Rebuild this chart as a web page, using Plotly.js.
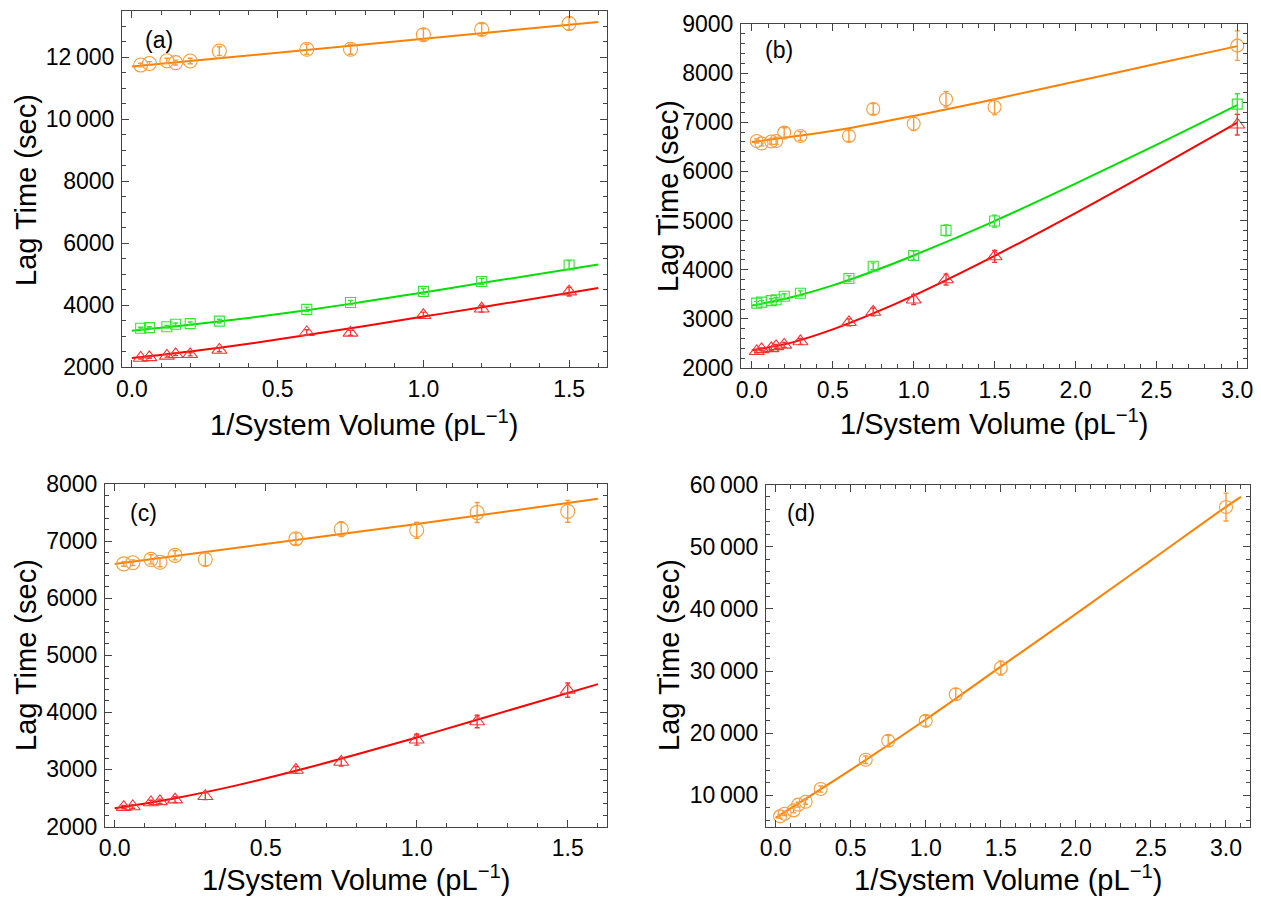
<!DOCTYPE html>
<html>
<head>
<meta charset="utf-8">
<script src="https://cdn.plot.ly/plotly-3.0.1.min.js"></script>
<style>html,body{margin:0;padding:0;background:#fff;}#chart{width:1261px;height:898px;}</style>
</head>
<body>
<div id="chart"></div>
<script>
// ---------- data ----------
const xs  = [0.03, 0.06, 0.12, 0.15, 0.2, 0.3, 0.6, 0.75, 1.0, 1.2, 1.5];
const xsB = [0.03, 0.06, 0.12, 0.15, 0.2, 0.3, 0.6, 0.75, 1.0, 1.2, 1.5, 3.0];

// panel (a)
const aOrange    = [11740, 11790, 11880, 11820, 11870, 12190, 12250, 12250, 12720, 12890, 13080];
const aOrangeErr = [60, 60, 80, 80, 90, 140, 160, 160, 190, 190, 210];
const aGreen     = [3250, 3270, 3300, 3380, 3400, 3480, 3860, 4080, 4440, 4760, 5290];
const aGreenErr  = [30, 30, 40, 40, 50, 60, 70, 70, 90, 100, 140];
const aRed       = [2290, 2310, 2360, 2410, 2410, 2550, 3120, 3100, 3670, 3880, 4430];
const aRedErr    = [30, 30, 40, 40, 50, 60, 80, 80, 100, 110, 140];
const aOrangeFitX = [0, 1.6];
const aOrangeFitY = [11690, 13130];
const aFitX       = [0, 0.2, 0.4, 0.6, 0.8, 1.0, 1.2, 1.6];
const aGreenFitY  = [3170, 3360, 3580, 3830, 4110, 4406, 4706, 5306];
const aRedFitY    = [2290, 2500, 2750, 3030, 3326, 3626, 3926, 4550];

// panel (b)
const bOrange    = [6620, 6570, 6610, 6620, 6790, 6720, 6720, 7270, 6970, 7470, 7310, 8560];
const bOrangeErr = [40, 50, 60, 70, 100, 90, 110, 110, 140, 160, 160, 300];
const bGreen     = [3320, 3340, 3370, 3390, 3460, 3520, 3820, 4070, 4290, 4800, 4990, 7370];
const bGreenErr  = [30, 30, 40, 40, 50, 50, 60, 70, 90, 110, 120, 210];
const bRed       = [2340, 2380, 2400, 2440, 2470, 2540, 2930, 3140, 3390, 3800, 4270, 6950];
const bRedErr    = [30, 30, 40, 40, 50, 60, 70, 80, 100, 110, 120, 210];
const bOrangeFitX = [0, 0.3, 0.6, 1.0, 1.5, 2.0, 2.5, 3.0];
const bOrangeFitY = [6600, 6730, 6880, 7130, 7470, 7830, 8190, 8550];
const bFitX       = [0, 0.25, 0.5, 0.75, 1.0, 1.5, 2.0, 2.5, 3.0];
const bGreenFitY  = [3270, 3445, 3682, 3970, 4290, 4990, 5750, 6540, 7350];
const bRedFitY    = [2360, 2522, 2785, 3110, 3472, 4282, 5152, 6062, 6992];

// panel (c)
const cOrange    = [6600, 6620, 6680, 6630, 6750, 6680, 7040, 7210, 7190, 7500, 7520];
const cOrangeErr = [40, 50, 80, 80, 80, 110, 100, 130, 140, 175, 190];
const cRed       = [2340, 2350, 2420, 2440, 2470, 2530, 2990, 3130, 3520, 3840, 4390];
const cRedErr    = [30, 30, 40, 40, 50, 60, 60, 70, 95, 110, 125];
const cOrangeFitX = [0, 0.6, 1.0, 1.6];
const cOrangeFitY = [6600, 7020, 7300, 7740];
const cRedFitX    = [0, 0.2, 0.4, 0.6, 0.8, 1.0, 1.2, 1.6];
const cRedFitY    = [2320, 2496, 2716, 2976, 3260, 3560, 3870, 4494];

// panel (d)
const dOrange    = [6630, 7060, 7590, 8510, 8990, 11030, 15730, 18780, 21990, 26270, 30490, 56370];
const dOrangeErr = [300, 300, 400, 400, 400, 500, 600, 880, 850, 930, 1150, 2250];
const dFitX = [0, 0.5, 1.0, 1.5, 2.0, 2.5, 3.0, 3.1];
const dFitY = [6400, 14100, 22200, 30700, 39200, 47800, 56400, 58000];

// tick labels
const xTickVals15 = [0, 0.5, 1.0, 1.5];
const xTickText15 = ['0.0', '0.5', '1.0', '1.5'];
const xTickVals30 = [0, 0.5, 1.0, 1.5, 2.0, 2.5, 3.0];
const xTickText30 = ['0.0', '0.5', '1.0', '1.5', '2.0', '2.5', '3.0'];
const aYTickVals = [2000, 4000, 6000, 8000, 10000, 12000];
const aYTickText = ['2000', '4000', '6000', '8000', '10\u2009000', '12\u2009000'];
const bYTickVals = [2000, 3000, 4000, 5000, 6000, 7000, 8000, 9000];
const bYTickText = ['2000', '3000', '4000', '5000', '6000', '7000', '8000', '9000'];
const cYTickVals = [2000, 3000, 4000, 5000, 6000, 7000, 8000];
const cYTickText = ['2000', '3000', '4000', '5000', '6000', '7000', '8000'];
const dYTickVals = [10000, 20000, 30000, 40000, 50000, 60000];
const dYTickText = ['10\u2009000', '20\u2009000', '30\u2009000', '40\u2009000', '50\u2009000', '60\u2009000'];

const panelLabels = ['(a)', '(b)', '(c)', '(d)'];
const xTitle = '1/System Volume (pL<sup>\u22121</sup>)';
const yTitle = 'Lag Time (sec)';

// ---------- styles ----------
const ORANGE = '#ff8000', GREEN = '#00e000', RED = '#ff0000';
const ORANGE_M = '#ff9933', GREEN_M = '#33e633', RED_M = '#ff3333';
const FONT = 'Liberation Sans, Arial, sans-serif';
const W = 1261, H = 898;

function pts(x, y, err, color, symbol, size, xa, ya) {
  return {
    x: x, y: y, xaxis: xa, yaxis: ya, type: 'scatter', mode: 'markers',
    marker: {symbol: symbol, size: size, color: color, line: {color: color, width: 1.1}},
    error_y: {type: 'data', array: err, visible: true, color: color, thickness: 1.4, width: 2.5},
    hoverinfo: 'x+y', showlegend: false
  };
}
function fit(x, y, color, xa, ya) {
  return {x: x, y: y, xaxis: xa, yaxis: ya, type: 'scatter', mode: 'lines',
    line: {color: color, width: 2, shape: 'spline', smoothing: 1},
    hoverinfo: 'skip', showlegend: false};
}

const traces = [
  fit(aOrangeFitX, aOrangeFitY, ORANGE, 'x', 'y'),
  fit(aFitX, aGreenFitY, GREEN, 'x', 'y'),
  fit(aFitX, aRedFitY, RED, 'x', 'y'),
  pts(xs, aOrange, aOrangeErr, ORANGE_M, 'circle-open', 14, 'x', 'y'),
  pts(xs, aGreen, aGreenErr, GREEN_M, 'square-open', 10, 'x', 'y'),
  pts(xs, aRed, aRedErr, RED_M, 'triangle-up-open', 13, 'x', 'y'),

  fit(bOrangeFitX, bOrangeFitY, ORANGE, 'x2', 'y2'),
  fit(bFitX, bGreenFitY, GREEN, 'x2', 'y2'),
  fit(bFitX, bRedFitY, RED, 'x2', 'y2'),
  pts(xsB, bOrange, bOrangeErr, ORANGE_M, 'circle-open', 13, 'x2', 'y2'),
  pts(xsB, bGreen, bGreenErr, GREEN_M, 'square-open', 10, 'x2', 'y2'),
  pts(xsB, bRed, bRedErr, RED_M, 'triangle-up-open', 13, 'x2', 'y2'),

  fit(cOrangeFitX, cOrangeFitY, ORANGE, 'x3', 'y3'),
  fit(cRedFitX, cRedFitY, RED, 'x3', 'y3'),
  pts(xs, cOrange, cOrangeErr, ORANGE_M, 'circle-open', 14, 'x3', 'y3'),
  pts(xs, cRed, cRedErr, RED_M, 'triangle-up-open', 13, 'x3', 'y3'),

  fit(dFitX, dFitY, ORANGE, 'x4', 'y4'),
  pts(xsB, dOrange, dOrangeErr, ORANGE_M, 'circle-open', 13, 'x4', 'y4')
];

function xAxis(px0, px1, range, tv, tt, minorD, anchor) {
  return {
    domain: [px0 / W, px1 / W], range: range, anchor: anchor,
    tickmode: 'array', tickvals: tv, ticktext: tt,
    ticks: 'inside', ticklen: 7, tickwidth: 1, tickcolor: '#444',
    minor: {tickmode: 'linear', tick0: 0, dtick: minorD, ticks: 'inside', ticklen: 4, tickwidth: 1, tickcolor: '#444'},
    showline: true, linecolor: '#444', linewidth: 1, mirror: 'allticks',
    showgrid: false, zeroline: false,
    tickfont: {family: FONT, size: 23, color: '#000'}, ticklabelstandoff: 1
  };
}
function yAxis(py0, py1, range, tv, tt, minorD, anchor) {
  const a = xAxis(0, 1, range, tv, tt, minorD, anchor);
  a.domain = [1 - py1 / H, 1 - py0 / H];
  a.ticklabelstandoff = 2;
  return a;
}

function ann(text, px, py, size, angle) {
  return {text: text, x: px / W, y: 1 - py / H, xref: 'paper', yref: 'paper',
    showarrow: false, xanchor: 'center', yanchor: 'middle', textangle: angle || 0,
    font: {family: FONT, size: size, color: '#000'}};
}

const layout = {
  width: W, height: H, margin: {l: 0, r: 0, t: 0, b: 0},
  paper_bgcolor: '#fff', plot_bgcolor: '#fff', showlegend: false,
  xaxis:  xAxis(122, 607, [-0.034, 1.63], xTickVals15, xTickText15, 0.1, 'y'),
  yaxis:  yAxis(10.5, 367, [2000, 13500], aYTickVals, aYTickText, 500, 'x'),
  xaxis2: xAxis(741, 1247, [-0.067, 3.06], xTickVals30, xTickText30, 0.1, 'y2'),
  yaxis2: yAxis(24, 368, [2000, 9000], bYTickVals, bYTickText, 200, 'x2'),
  xaxis3: xAxis(105, 607, [-0.032, 1.63], xTickVals15, xTickText15, 0.1, 'y3'),
  yaxis3: yAxis(484, 826.5, [2000, 8000], cYTickVals, cYTickText, 200, 'x3'),
  xaxis4: xAxis(766, 1250, [-0.064, 3.16], xTickVals30, xTickText30, 0.1, 'y4'),
  yaxis4: yAxis(484.5, 826.5, [5000, 60000], dYTickVals, dYTickText, 2000, 'x4'),
  annotations: [
    ann(panelLabels[0], 159, 40, 23), ann(panelLabels[1], 779, 50, 23),
    ann(panelLabels[2], 143, 513, 23), ann(panelLabels[3], 801, 513, 23),
    ann(yTitle, 26, 190, 29, -90), ann(yTitle, 668, 196, 29, -90),
    ann(yTitle, 26, 655, 29, -90), ann(yTitle, 669, 655, 29, -90),
    ann(xTitle, 364, 423, 29), ann(xTitle, 994, 422, 29),
    ann(xTitle, 356, 878, 29), ann(xTitle, 1008, 878, 29)
  ]
};

Plotly.newPlot('chart', traces, layout, {displayModeBar: false, staticPlot: true});
</script>
</body>
</html>
